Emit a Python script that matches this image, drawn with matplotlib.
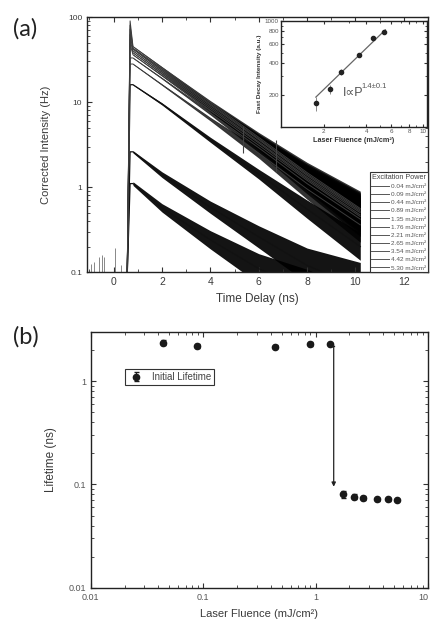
import numpy as np
import matplotlib
matplotlib.use('Agg')
import matplotlib.pyplot as plt
from matplotlib.ticker import LogLocator, NullFormatter, FixedLocator, MultipleLocator, FixedFormatter
from matplotlib.lines import Line2D

plt.rcParams['font.family'] = ['Liberation Sans', 'DejaVu Sans']

# ---------------- data: panel (a) ----------------
fluence_labels = ['0.04', '0.09', '0.44', '0.89', '1.35', '1.76', '2.21', '2.65', '3.54', '4.42', '5.30']
t_rise = 0.56
t_peak = 0.68
peak_intensity = [1.1, 2.6, 16, 28, 33, 48, 55, 62, 72, 80, 90]
t_read = [0.8, 2, 4, 6, 8, 10.2]
slow_intensity = [
    [1.1, 0.57, 0.24, 0.11, 0.06, 0.03],
    [2.6, 1.4, 0.58, 0.26, 0.12, 0.065],
    [16, 9.5, 3.6, 1.42, 0.55, 0.20],
    [28, 16, 6.3, 2.5, 0.95, 0.36],
    [33, 19, 7.4, 2.9, 1.1, 0.42],
    [36, 20.5, 8.0, 3.1, 1.2, 0.45],
    [38, 21.5, 8.4, 3.3, 1.25, 0.47],
    [40, 22.5, 8.8, 3.4, 1.3, 0.50],
    [42, 23.5, 9.2, 3.6, 1.37, 0.52],
    [43, 24.5, 9.5, 3.7, 1.42, 0.54],
    [45, 25.5, 9.9, 3.85, 1.48, 0.56],
]
# multiplicative half-width of the noise band read at t_read
noise_spread = [
    [1.05, 1.12, 1.28, 1.5, 1.8, 2.0],
    [1.03, 1.08, 1.18, 1.35, 1.6, 2.0],
    [1.01, 1.03, 1.07, 1.14, 1.28, 1.45],
    [1.01, 1.02, 1.05, 1.14, 1.32, 1.6],
    [1.01, 1.02, 1.05, 1.14, 1.32, 1.6],
    [1.01, 1.02, 1.05, 1.14, 1.32, 1.6],
    [1.01, 1.02, 1.05, 1.14, 1.32, 1.6],
    [1.01, 1.02, 1.05, 1.14, 1.32, 1.6],
    [1.01, 1.02, 1.05, 1.14, 1.32, 1.6],
    [1.01, 1.02, 1.05, 1.14, 1.32, 1.6],
    [1.01, 1.02, 1.05, 1.14, 1.32, 1.6],
]
bg_t = [-0.95, -0.8, -0.6, -0.5, -0.4, 0.05, 0.3]
bg_y = [0.125, 0.13, 0.15, 0.16, 0.15, 0.19, 0.12]
glitch_t = [5.35, 6.7]
glitch_lo = [2.5, 1.5]
glitch_hi = [5.2, 3.6]

# inset
inset_fluence = [1.76, 2.21, 2.65, 3.54, 4.42, 5.30]
inset_intensity = [168, 228, 330, 477, 692, 788]
inset_err = [25, 22, 20, 20, 35, 25]
fit_fluence = [1.76, 5.43]
fit_intensity = [192, 822]

# ---------------- data: panel (b) ----------------
fluence_b = [0.044, 0.089, 0.44, 0.89, 1.35, 1.76, 2.21, 2.65, 3.54, 4.42, 5.30]
lifetime_b = [2.35, 2.18, 2.15, 2.26, 2.26, 0.080, 0.076, 0.074, 0.0716, 0.0716, 0.0705]
lifetime_err = [0.12, 0.08, 0.08, 0.10, 0.06, 0.006, 0.004, 0.003, 0.002, 0.002, 0.002]
arrow_x = 1.45
arrow_from = 2.2
arrow_to = 0.095

TXT = '#3a3a3a'

fig = plt.figure(figsize=(4.31, 6.30), dpi=100)

def style_box(ax):
    for s in ax.spines.values():
        s.set_color('#222222')
        s.set_linewidth(1.0)
    ax.tick_params(which='both', direction='in', top=True, right=True, colors='#333333')
    ax.tick_params(which='major', length=3.5, width=0.8)
    ax.tick_params(which='minor', length=2, width=0.6)

# ---------------- panel (a) ----------------
axa = fig.add_axes([0.202, 0.568, 0.791, 0.405])
axa.set_yscale('log')
axa.set_xlim(-1.1, 13.0)
axa.set_ylim(0.1, 100)

axa.vlines(bg_t, 0.1, bg_y, color='#888888', lw=0.7)

for i in range(len(fluence_labels)):
    c = np.array(slow_intensity[i])
    s = np.array(noise_spread[i])
    axa.fill_between(t_read, c / s, c * s, color='black', alpha=0.92 if i < 3 else 0.8, lw=0)
    tt = [t_rise, t_peak] + t_read
    yy = [0.09, peak_intensity[i]] + list(c)
    col = '#111111' if i < 3 else '#3c3c3c'
    axa.plot(tt, yy, color=col, lw=0.9 if i < 3 else 0.7)

axa.vlines(glitch_t, glitch_lo, glitch_hi, color='#444444', lw=0.8)

style_box(axa)
axa.yaxis.set_major_locator(FixedLocator([0.1, 1, 10, 100]))
axa.yaxis.set_major_formatter(FixedFormatter(['0.1', '1', '10', '100']))
axa.yaxis.set_minor_locator(LogLocator(base=10, subs=np.arange(2, 10), numticks=10))
axa.yaxis.set_minor_formatter(NullFormatter())
axa.xaxis.set_major_locator(MultipleLocator(2))
axa.xaxis.set_minor_locator(MultipleLocator(1))
axa.tick_params(axis='y', which='major', labelsize=6, labelcolor=TXT)
axa.tick_params(axis='x', which='major', labelsize=7.5, labelcolor=TXT)
axa.set_xlabel('Time Delay (ns)', fontsize=8.5, color=TXT, labelpad=4)
axa.set_ylabel('Corrected Intensity (Hz)', fontsize=8, color=TXT, labelpad=12)

handles = [Line2D([0], [0], color='#555555', lw=0.7) for _ in fluence_labels]
leg = axa.legend(handles, [f'{v} mJ/cm²' for v in fluence_labels], title='Excitation Power',
                 loc='lower right', fontsize=4.6, title_fontsize=5.2, frameon=True, fancybox=False,
                 borderaxespad=0.0, borderpad=0.25, labelspacing=0.42, handlelength=2.8,
                 handletextpad=0.3, edgecolor='#333333', framealpha=1)
leg.get_frame().set_linewidth(0.8)
for t in leg.get_texts():
    t.set_color('#555555')
leg.get_title().set_color('#444444')

# inset
axi = fig.add_axes([0.652, 0.798, 0.339, 0.169])
axi.set_xscale('log')
axi.set_yscale('log')
axi.set_xlim(1.0, 10.7)
axi.set_ylim(100, 1000)
axi.plot(fit_fluence, fit_intensity, color='#666666', lw=0.9)
axi.errorbar(inset_fluence, inset_intensity, yerr=inset_err, fmt='o', ms=3, color='#222222',
             ecolor='#777777', elinewidth=0.6, capsize=0)
style_box(axi)
axi.xaxis.set_major_locator(FixedLocator([2, 4, 6, 8, 10]))
axi.xaxis.set_major_formatter(FixedFormatter(['2', '4', '6', '8', '10']))
axi.xaxis.set_minor_locator(FixedLocator([1, 3, 5, 7, 9]))
axi.xaxis.set_minor_formatter(NullFormatter())
axi.yaxis.set_major_locator(FixedLocator([200, 400, 600, 800, 1000]))
axi.yaxis.set_major_formatter(FixedFormatter(['200', '400', '600', '800', '1000']))
axi.yaxis.set_minor_locator(FixedLocator([100, 300, 500, 700, 900]))
axi.yaxis.set_minor_formatter(NullFormatter())
axi.tick_params(which='major', labelsize=4.5, labelcolor='#555555', pad=1.5, length=2.5)
axi.tick_params(which='minor', length=1.5)
axi.set_xlabel('Laser Fluence (mJ/cm²)', fontsize=5.2, color='#333333', labelpad=2, fontweight='bold')
axi.set_ylabel('Fast Decay Intensity (a.u.)', fontsize=4.6, color='#333333', labelpad=2, fontweight='bold')
axi.text(2.72, 196, 'I∝P', fontsize=9, color='#555555', va='baseline', ha='left')
axi.text(3.68, 232, '1.4±0.1', fontsize=5.5, color='#555555', va='baseline', ha='left')

fig.text(0.030, 0.972, '(a)', fontsize=17, family=['Lato', 'DejaVu Sans'], color='#222222', va='top')

# ---------------- panel (b) ----------------
axb = fig.add_axes([0.2105, 0.067, 0.7825, 0.4065])
axb.set_xscale('log')
axb.set_yscale('log')
axb.set_xlim(0.01, 10)
axb.set_ylim(0.01, 3.0)
axb.errorbar(fluence_b, lifetime_b, yerr=lifetime_err, fmt='o', ms=4.5, color='#1a1a1a',
             ecolor='#1a1a1a', elinewidth=0.8, capsize=1.8, label='Initial Lifetime')
axb.plot([1.38, arrow_x], [arrow_from, arrow_from], color='#222222', lw=0.9)
axb.annotate('', xy=(arrow_x, arrow_to), xytext=(arrow_x, arrow_from),
             arrowprops=dict(arrowstyle='-|>', color='#222222', lw=0.9, mutation_scale=6,
                             shrinkA=0, shrinkB=0))
style_box(axb)
axb.xaxis.set_major_locator(FixedLocator([0.01, 0.1, 1, 10]))
axb.xaxis.set_major_formatter(FixedFormatter(['0.01', '0.1', '1', '10']))
axb.xaxis.set_minor_locator(LogLocator(base=10, subs=np.arange(2, 10), numticks=10))
axb.xaxis.set_minor_formatter(NullFormatter())
axb.yaxis.set_major_locator(FixedLocator([0.01, 0.1, 1]))
axb.yaxis.set_major_formatter(FixedFormatter(['0.01', '0.1', '1']))
axb.yaxis.set_minor_locator(LogLocator(base=10, subs=np.arange(2, 10), numticks=10))
axb.yaxis.set_minor_formatter(NullFormatter())
axb.tick_params(which='major', labelsize=6.5, labelcolor='#555555')
axb.set_xlabel('Laser Fluence (mJ/cm²)', fontsize=8, color=TXT, labelpad=5)
axb.set_ylabel('Lifetime (ns)', fontsize=8.5, color=TXT, labelpad=8)
lb = axb.legend(loc='upper left', bbox_to_anchor=(0.087, 0.875), fontsize=7, frameon=True,
                fancybox=False, edgecolor='#333333', framealpha=1, handletextpad=0.8,
                borderpad=0.35, handlelength=1.6)
lb.get_frame().set_linewidth(0.8)
for t in lb.get_texts():
    t.set_color('#444444')
# keep the last x tick label inside the figure
fig.canvas.draw()
xlabs = axb.get_xticklabels()
xlabs[-1].set_horizontalalignment('right')

fig.text(0.030, 0.482, '(b)', fontsize=17, family=['Lato', 'DejaVu Sans'], color='#222222', va='top')

fig.savefig('out.png', dpi=100)
